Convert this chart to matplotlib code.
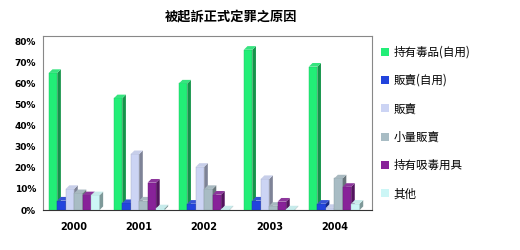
import numpy as np
import matplotlib.pyplot as plt
from matplotlib.patches import Polygon, Patch
from matplotlib.colors import to_rgb

plt.rcParams['font.family'] = ['Noto Sans CJK TC', 'DejaVu Sans']

years = ["2000", "2001", "2002", "2003", "2004"]
labels = ["持有毒品(自用)", "販賣(自用)", "販賣", "小量販賣", "持有吸毒用具", "其他"]
colors = ["#22ee77", "#2244dd", "#ccd4f4", "#a8bcc4", "#882299", "#ccf6f6"]

possess_self = [65, 53, 60, 76, 68]
sell_self = [4.5, 3.3, 3.0, 4.5, 3.0]
sell = [10, 26.5, 20.5, 14.7, 1.0]
small_sell = [8, 4.5, 10, 2, 15]
paraphernalia = [7, 13, 7.3, 4, 11]
other = [7, 0.8, 0.3, 0.3, 3]
series = [possess_self, sell_self, sell, small_sell, paraphernalia, other]

fig = plt.figure(figsize=(5.2, 2.5), dpi=100)
ax = fig.add_axes([43 / 520, 1 - 210 / 250, 329 / 520, 174 / 250])
ax.set_xlim(-0.48, 4.58)
ax.set_ylim(0, 82.5)

w = 0.13
dx, dy = 0.055, 1.7
x = np.arange(len(years))
for j, (vals, c) in enumerate(zip(series, colors)):
    pos = x + (j - 2.5) * w
    rgb = np.array(to_rgb(c))
    side = rgb * 0.62
    top = np.clip(rgb * 0.85 + 0.1, 0, 1)
    ax.bar(pos, vals, width=w, color=c, edgecolor=rgb * 0.8, linewidth=0.3,
           zorder=3 + j)
    for px, h in zip(pos, vals):
        r = px + w / 2
        l = px - w / 2
        ax.add_patch(Polygon([(r, 0), (r + dx, dy), (r + dx, h + dy), (r, h)],
                             closed=True, facecolor=side, edgecolor='none',
                             zorder=3 + j))
        ax.add_patch(Polygon([(l, h), (l + dx, h + dy), (r + dx, h + dy), (r, h)],
                             closed=True, facecolor=top, edgecolor='none',
                             zorder=3 + j))

ax.set_xticks(x)
ax.set_xticklabels(years, fontsize=7, fontweight='bold', family='DejaVu Sans')
yt = np.arange(0, 81, 10)
ax.set_yticks(yt)
ax.set_yticklabels([f"{v}%" for v in yt], fontsize=6.5, fontweight='bold',
                   family='DejaVu Sans')
ax.tick_params(length=0)
ax.tick_params(axis='y', pad=5)
ax.tick_params(axis='x', pad=9)
for s in ax.spines.values():
    s.set_color('#888888')
    s.set_linewidth(0.8)
ax.spines['bottom'].set_color('#333333')

fig.text(0.444, 0.932, "被起訴正式定罪之原因", ha='center', va='center',
         fontsize=9.5, fontweight='bold')

handles = [Patch(facecolor=c, edgecolor='none') for c in colors]
fig.legend(handles, labels, loc='upper left', bbox_to_anchor=(376 / 520, 1 - 41 / 250),
           frameon=False, fontsize=8.3, handlelength=0.7, handleheight=0.7,
           handletextpad=0.4, labelspacing=1.33, borderaxespad=0)

fig.savefig("out.png", dpi=100)
